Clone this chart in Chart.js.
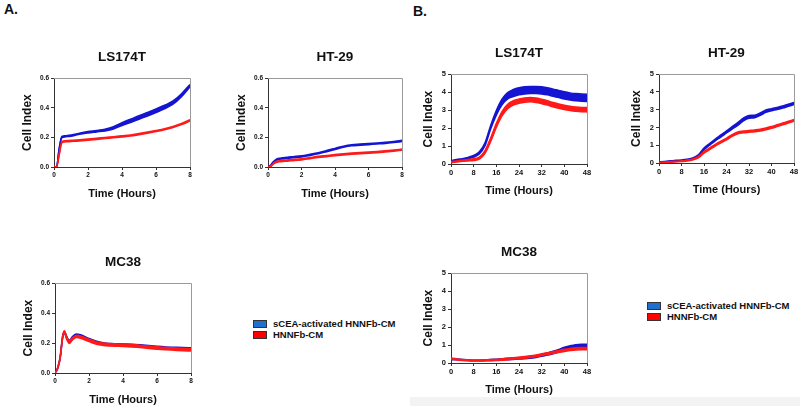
<!DOCTYPE html>
<html>
<head>
<meta charset="utf-8">
<script src="https://cdn.jsdelivr.net/npm/chart.js@4.4.0/dist/chart.umd.min.js"></script>
<style>
  body { margin: 0; width: 800px; height: 406px; position: relative; overflow: hidden; background: #fff;
         font-family: "Liberation Sans", Arial, sans-serif; color: #111; }
  canvas { position: absolute; }
  .lbl { position: absolute; font-weight: bold; font-size: 14px; }
  .leg { position: absolute; font-weight: bold; font-size: 9.5px; white-space: nowrap; }
  .sw { position: absolute; width: 12px; height: 6px; border: 1px solid #333; }
  .strip { position: absolute; left: 410px; top: 397px; width: 390px; height: 9px; background: #f3f3f3; }
</style>
</head>
<body>
<div class="strip"></div>
<div class="lbl" style="left:4px;top:1px">A.</div>
<div class="lbl" style="left:413px;top:3px">B.</div>

<div class="sw" style="left:253px;top:320px;background:#1f6fd0"></div>
<div class="leg" style="left:273px;top:318px">sCEA-activated HNNFb-CM</div>
<div class="sw" style="left:253px;top:331px;background:#ff0000"></div>
<div class="leg" style="left:273px;top:329px">HNNFb-CM</div>

<div class="sw" style="left:647px;top:302px;background:#1f6fd0"></div>
<div class="leg" style="left:667px;top:300px">sCEA-activated HNNFb-CM</div>
<div class="sw" style="left:647px;top:313px;background:#ff0000"></div>
<div class="leg" style="left:667px;top:311px">HNNFb-CM</div>

<script>
const FONT = '"Liberation Sans", Arial, sans-serif';
const BLUE = '#1414d2';
const RED = '#ff1a1a';

// time points (hours)
const timeA = [0, 0.15, 0.3, 0.45, 0.55, 0.7, 0.85, 1, 1.25, 1.5, 2, 2.5, 3, 3.5, 4, 4.5, 5, 5.5, 6, 6.5, 7, 7.5, 8];
const timeB = [0, 2, 4, 6, 8, 10, 12, 14, 16, 18, 20, 22, 24, 26, 28, 30, 32, 34, 36, 38, 40, 42, 44, 46, 48];

// tick labels
const xTicksA = [0, 2, 4, 6, 8];
const yTicksA = [0, 0.2, 0.4, 0.6];
const xTicksB = [0, 8, 16, 24, 32, 40, 48];
const yTicksB = [0, 1, 2, 3, 4, 5];

// A. LS174T
const lsA_sCEA = [0, 0, 0.12, 0.2, 0.205, 0.208, 0.21, 0.212, 0.218, 0.225, 0.235, 0.242, 0.25, 0.265, 0.29, 0.312, 0.335, 0.357, 0.38, 0.405, 0.435, 0.485, 0.55];
const lsA_sCEAErr = [0, 0, 0.003, 0.004, 0.004, 0.004, 0.004, 0.004, 0.004, 0.004, 0.005, 0.005, 0.006, 0.008, 0.01, 0.011, 0.012, 0.012, 0.012, 0.012, 0.011, 0.01, 0.008];
const lsA_cm = [0, 0, 0.08, 0.165, 0.172, 0.174, 0.175, 0.176, 0.178, 0.18, 0.185, 0.19, 0.196, 0.201, 0.207, 0.213, 0.222, 0.232, 0.243, 0.255, 0.27, 0.29, 0.315];
const lsA_cmErr = [0, 0, 0.003, 0.004, 0.004, 0.004, 0.004, 0.004, 0.004, 0.004, 0.004, 0.004, 0.004, 0.004, 0.004, 0.004, 0.004, 0.004, 0.004, 0.004, 0.004, 0.004, 0.004];

// A. HT-29
const htA_sCEA = [0, 0.01, 0.03, 0.045, 0.052, 0.056, 0.058, 0.06, 0.063, 0.066, 0.072, 0.082, 0.093, 0.107, 0.122, 0.137, 0.147, 0.151, 0.155, 0.159, 0.163, 0.169, 0.176];
const htA_sCEAErr = [0, 0.002, 0.003, 0.004, 0.004, 0.004, 0.004, 0.004, 0.004, 0.004, 0.004, 0.004, 0.004, 0.004, 0.004, 0.004, 0.004, 0.004, 0.004, 0.004, 0.004, 0.004, 0.004];
const htA_cm = [0, 0.005, 0.02, 0.032, 0.036, 0.039, 0.041, 0.042, 0.045, 0.047, 0.052, 0.06, 0.068, 0.074, 0.08, 0.085, 0.09, 0.094, 0.097, 0.101, 0.106, 0.111, 0.117];
const htA_cmErr = [0, 0.002, 0.003, 0.004, 0.004, 0.004, 0.004, 0.004, 0.004, 0.004, 0.004, 0.004, 0.004, 0.004, 0.004, 0.004, 0.004, 0.004, 0.004, 0.004, 0.004, 0.004, 0.004];

// A. MC38
const mcA_sCEA = [0, 0.03, 0.1, 0.24, 0.272, 0.235, 0.212, 0.235, 0.255, 0.25, 0.225, 0.205, 0.193, 0.19, 0.188, 0.186, 0.182, 0.177, 0.172, 0.168, 0.166, 0.164, 0.163];
const mcA_sCEAErr = [0, 0.003, 0.005, 0.006, 0.006, 0.006, 0.006, 0.006, 0.006, 0.006, 0.006, 0.006, 0.006, 0.006, 0.006, 0.006, 0.006, 0.006, 0.006, 0.006, 0.006, 0.006, 0.006];
const mcA_cm = [0, 0.03, 0.1, 0.24, 0.275, 0.23, 0.205, 0.225, 0.245, 0.24, 0.218, 0.198, 0.19, 0.187, 0.185, 0.182, 0.178, 0.172, 0.167, 0.163, 0.16, 0.157, 0.155];
const mcA_cmErr = [0, 0.004, 0.006, 0.008, 0.008, 0.008, 0.008, 0.008, 0.008, 0.008, 0.008, 0.008, 0.008, 0.008, 0.008, 0.008, 0.008, 0.008, 0.008, 0.008, 0.008, 0.008, 0.008];

// B. LS174T
const lsB_sCEA = [0.15, 0.22, 0.27, 0.33, 0.43, 0.62, 1.1, 2.05, 2.85, 3.45, 3.8, 3.95, 4.05, 4.1, 4.12, 4.12, 4.1, 4.05, 3.97, 3.9, 3.82, 3.76, 3.72, 3.7, 3.68];
const lsB_sCEAErr = [0.03, 0.03, 0.03, 0.04, 0.05, 0.06, 0.08, 0.1, 0.13, 0.16, 0.18, 0.2, 0.2, 0.2, 0.2, 0.2, 0.2, 0.2, 0.2, 0.2, 0.2, 0.2, 0.2, 0.2, 0.2];
const lsB_cm = [0.1, 0.14, 0.18, 0.21, 0.24, 0.33, 0.67, 1.35, 2.15, 2.8, 3.2, 3.4, 3.5, 3.56, 3.58, 3.55, 3.48, 3.4, 3.3, 3.22, 3.15, 3.1, 3.06, 3.03, 3.02];
const lsB_cmErr = [0.03, 0.03, 0.03, 0.04, 0.05, 0.06, 0.08, 0.1, 0.11, 0.12, 0.12, 0.12, 0.12, 0.12, 0.12, 0.12, 0.12, 0.12, 0.12, 0.12, 0.12, 0.12, 0.12, 0.12, 0.12];

// B. HT-29
const htB_sCEA = [0.05, 0.07, 0.1, 0.13, 0.15, 0.18, 0.25, 0.42, 0.8, 1.05, 1.3, 1.52, 1.75, 1.98, 2.2, 2.45, 2.6, 2.62, 2.75, 2.92, 3.0, 3.07, 3.15, 3.25, 3.35];
const htB_sCEAErr = [0.02, 0.02, 0.02, 0.02, 0.02, 0.03, 0.03, 0.04, 0.05, 0.05, 0.05, 0.06, 0.06, 0.07, 0.08, 0.08, 0.08, 0.07, 0.07, 0.07, 0.06, 0.06, 0.06, 0.06, 0.06];
const htB_cm = [0.02, 0.04, 0.06, 0.08, 0.1, 0.14, 0.2, 0.33, 0.6, 0.8, 1.0, 1.18, 1.35, 1.55, 1.7, 1.75, 1.78, 1.81, 1.85, 1.92, 2.0, 2.1, 2.2, 2.3, 2.4];
const htB_cmErr = [0.02, 0.02, 0.02, 0.02, 0.02, 0.03, 0.03, 0.04, 0.05, 0.05, 0.05, 0.05, 0.05, 0.05, 0.05, 0.05, 0.05, 0.05, 0.05, 0.05, 0.05, 0.05, 0.05, 0.05, 0.05];

// B. MC38
const mcB_sCEA = [0.2, 0.2, 0.18, 0.16, 0.14, 0.14, 0.15, 0.17, 0.18, 0.2, 0.22, 0.24, 0.26, 0.28, 0.31, 0.36, 0.43, 0.5, 0.58, 0.68, 0.8, 0.88, 0.94, 0.96, 0.96];
const mcB_sCEAErr = [0.02, 0.02, 0.02, 0.02, 0.02, 0.02, 0.02, 0.03, 0.03, 0.03, 0.04, 0.04, 0.04, 0.05, 0.05, 0.05, 0.06, 0.06, 0.07, 0.07, 0.08, 0.08, 0.08, 0.08, 0.08];
const mcB_cm = [0.25, 0.2, 0.17, 0.15, 0.14, 0.14, 0.15, 0.16, 0.17, 0.19, 0.22, 0.25, 0.28, 0.31, 0.35, 0.4, 0.46, 0.52, 0.58, 0.64, 0.7, 0.75, 0.79, 0.8, 0.8];
const mcB_cmErr = [0.03, 0.03, 0.03, 0.03, 0.03, 0.03, 0.03, 0.03, 0.03, 0.04, 0.04, 0.04, 0.04, 0.05, 0.05, 0.05, 0.05, 0.05, 0.05, 0.06, 0.06, 0.06, 0.06, 0.06, 0.06];

// grey top/right edges of the plot box
const frame = {
  id: 'frame',
  afterDraw(chart) {
    const { ctx, chartArea: a } = chart;
    ctx.save();
    ctx.strokeStyle = '#9a9a9a';
    ctx.lineWidth = 1;
    ctx.beginPath();
    ctx.moveTo(a.left, Math.round(a.top) + 0.5);
    ctx.lineTo(Math.round(a.right) + 0.5, Math.round(a.top) + 0.5);
    ctx.lineTo(Math.round(a.right) + 0.5, a.bottom);
    ctx.stroke();
    ctx.restore();
  }
};

const TOP = 29, XH = 34, RIGHT = 6;

function band(time, mean, err, color) {
  const common = { borderColor: color, backgroundColor: color, borderWidth: 1.5, pointRadius: 0 };
  return [
    { ...common, data: time.map((x, i) => ({ x, y: mean[i] + err[i] })), fill: false },
    { ...common, data: time.map((x, i) => ({ x, y: mean[i] - err[i] })), fill: '-1' }
  ];
}

function makePanel(p) {
  const [l, t, r, b] = p.area;
  const c = document.createElement('canvas');
  c.width = r - l + p.yw + RIGHT;
  c.height = b - t + TOP + XH;
  c.style.left = (l - p.yw) + 'px';
  c.style.top = (t - TOP) + 'px';
  document.body.appendChild(c);

  const tickFont = { size: p.tickSize, weight: 'bold', family: FONT };

  new Chart(c, {
    type: 'line',
    data: {
      datasets: [
        ...band(p.time, p.cm, p.cmErr, RED),
        ...band(p.time, p.sCEA, p.sCEAErr, BLUE)
      ]
    },
    options: {
      responsive: false,
      animation: false,
      devicePixelRatio: 1,
      layout: { padding: { left: 0, right: RIGHT, top: 0, bottom: 0 } },
      elements: { line: { cubicInterpolationMode: 'monotone' } },
      plugins: {
        legend: { display: false },
        tooltip: { enabled: false },
        title: {
          display: true, text: p.title, fullSize: false, color: '#111',
          font: { size: 13.5, weight: 'bold', family: FONT },
          padding: { top: 0, bottom: 13 }
        }
      },
      scales: {
        x: {
          type: 'linear', min: 0, max: p.xTicks[p.xTicks.length - 1],
          afterBuildTicks: s => { s.ticks = p.xTicks.map(v => ({ value: v })); },
          afterFit: s => { s.height = XH; },
          border: { color: '#333', width: 1 },
          grid: { drawOnChartArea: false, tickLength: 3, color: '#333' },
          ticks: { font: tickFont, color: '#111', padding: 1, maxRotation: 0 },
          title: { display: true, text: 'Time (Hours)', font: { size: 11, weight: 'bold', family: FONT }, color: '#111', padding: 0 }
        },
        y: {
          min: 0, max: p.yTicks[p.yTicks.length - 1],
          afterBuildTicks: s => { s.ticks = p.yTicks.map(v => ({ value: v })); },
          afterFit: s => { s.width = p.yw; },
          border: { color: '#333', width: 1 },
          grid: { drawOnChartArea: false, tickLength: 3, color: '#333' },
          ticks: { font: tickFont, color: '#111', padding: 2, callback: v => v.toFixed(p.dec) },
          title: { display: true, text: 'Cell Index', font: { size: 12, weight: 'bold', family: FONT }, color: '#111', padding: 0 }
        }
      }
    },
    plugins: [frame]
  });
}

const panelsA = { time: timeA, xTicks: xTicksA, yTicks: yTicksA, dec: 1, yw: 34, tickSize: 6.5 };
const panelsB = { time: timeB, xTicks: xTicksB, yTicks: yTicksB, dec: 0, yw: 30, tickSize: 7.5 };

makePanel({ ...panelsA, title: 'LS174T', area: [54, 78, 190, 167], sCEA: lsA_sCEA, sCEAErr: lsA_sCEAErr, cm: lsA_cm, cmErr: lsA_cmErr });
makePanel({ ...panelsA, title: 'HT-29', area: [268, 78, 402, 167], sCEA: htA_sCEA, sCEAErr: htA_sCEAErr, cm: htA_cm, cmErr: htA_cmErr });
makePanel({ ...panelsA, title: 'MC38', area: [55, 283, 191, 373], sCEA: mcA_sCEA, sCEAErr: mcA_sCEAErr, cm: mcA_cm, cmErr: mcA_cmErr });
makePanel({ ...panelsB, title: 'LS174T', area: [451, 74, 587, 164], sCEA: lsB_sCEA, sCEAErr: lsB_sCEAErr, cm: lsB_cm, cmErr: lsB_cmErr });
makePanel({ ...panelsB, title: 'HT-29', area: [659, 74, 794, 163], sCEA: htB_sCEA, sCEAErr: htB_sCEAErr, cm: htB_cm, cmErr: htB_cmErr });
makePanel({ ...panelsB, title: 'MC38', area: [451, 273, 587, 363], sCEA: mcB_sCEA, sCEAErr: mcB_sCEAErr, cm: mcB_cm, cmErr: mcB_cmErr });
</script>
</body>
</html>
